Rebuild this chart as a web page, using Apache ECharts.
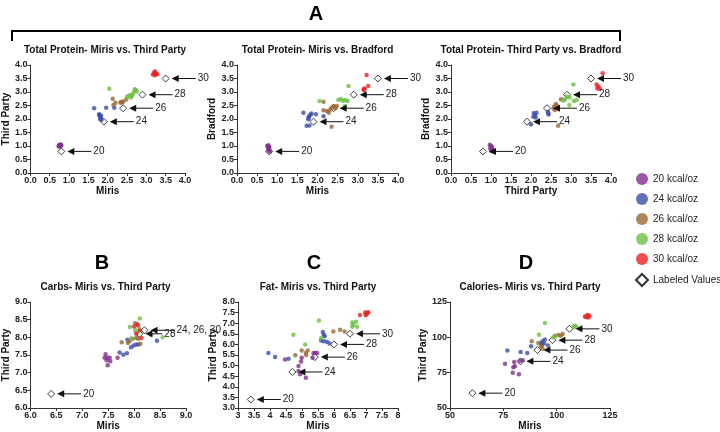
<!DOCTYPE html>
<html>
<head>
<meta charset="utf-8">
<script src="https://cdn.jsdelivr.net/npm/echarts@6/dist/echarts.min.js"></script>
<style>
  html, body { margin: 0; padding: 0; background: #fff; }
  #chart { width: 720px; height: 432px; }
</style>
</head>
<body>
<div id="chart"></div>
<script>
// ---- data ----
const groups = ['20 kcal/oz', '24 kcal/oz', '26 kcal/oz', '28 kcal/oz', '30 kcal/oz'];
const colors = ['#7f2f8e', '#3b4fa8', '#9a6633', '#6bbf45', '#ec1f26'];

// Total Protein - Miris vs Third Party
const p1_20 = [[0.73,1.0],[0.75,1.04],[0.77,1.06],[0.8,1.03],[0.78,0.98],[0.76,1.01],[0.79,1.05],[0.74,0.98]];
const p1_24 = [[1.65,2.4],[1.96,2.42],[2.17,2.42],[1.78,2.15],[1.8,2.1],[1.82,2.05],[1.8,2.0],[1.84,1.97],[1.78,2.18],[1.83,2.12]];
const p1_26 = [[2.13,2.75],[2.15,2.52],[2.2,2.6],[2.33,2.62],[2.37,2.63],[2.4,2.65],[2.48,2.72],[2.35,2.6]];
const p1_28 = [[2.04,3.12],[2.5,2.82],[2.56,2.88],[2.6,2.8],[2.64,2.92],[2.68,3.0],[2.73,3.07],[2.75,3.02],[2.62,2.85],[2.7,3.1]];
const p1_30 = [[3.17,3.65],[3.2,3.72],[3.23,3.76],[3.25,3.68],[3.28,3.66],[3.22,3.62]];
const p1_lab = [[0.8,0.8],[1.9,1.9],[2.4,2.4],[2.9,2.9],[3.5,3.5]];
const p1_labText = ['20','24','26','28','30'];

// Total Protein - Miris vs Bradford
const p2_20 = [[0.75,1.0],[0.78,1.03],[0.8,0.97],[0.77,0.9],[0.8,0.85],[0.82,0.8],[0.78,0.82],[0.8,0.93]];
const p2_24 = [[1.65,2.23],[1.73,1.75],[1.8,1.76],[1.77,1.99],[1.79,2.1],[1.83,2.17],[1.85,2.2],[1.96,2.18],[2.15,2.1],[1.78,2.05]];
const p2_26 = [[2.15,2.64],[2.15,2.32],[2.23,2.3],[2.28,2.23],[2.3,2.32],[2.35,2.42],[2.4,2.48],[2.44,2.4],[2.48,2.48],[2.35,1.71]];
const p2_28 = [[2.05,2.67],[2.77,3.22],[2.52,2.7],[2.58,2.74],[2.63,2.68],[2.69,2.7],[2.75,2.67],[2.68,2.48]];
const p2_30 = [[3.22,3.63],[3.15,3.07],[3.17,3.13],[3.26,3.22],[3.15,3.1]];
const p2_lab = [[0.8,0.8],[1.9,1.9],[2.4,2.4],[2.9,2.9],[3.5,3.5]];
const p2_labText = ['20','24','26','28','30'];

// Total Protein - Third Party vs Bradford
const p3_20 = [[0.97,1.05],[1.0,1.0],[1.02,0.97],[0.98,0.92],[1.03,0.88],[1.05,0.85],[1.0,0.82],[1.05,0.8]];
const p3_24 = [[2.0,1.81],[2.06,2.08],[2.1,2.14],[2.14,2.23],[2.12,2.06],[2.07,2.21],[2.42,2.27],[2.44,2.17],[2.43,2.22]];
const p3_26 = [[2.68,1.75],[2.62,2.56],[2.56,2.39],[2.6,2.33],[2.75,2.73],[2.58,2.46],[2.65,2.5]];
const p3_28 = [[3.06,3.28],[2.85,2.73],[2.9,2.83],[2.97,2.8],[3.07,2.67],[3.14,2.7],[2.96,2.52],[2.81,2.68]];
const p3_30 = [[3.79,3.69],[3.64,3.28],[3.68,3.2],[3.72,3.13],[3.66,3.13]];
const p3_lab = [[0.8,0.8],[1.9,1.9],[2.4,2.4],[2.9,2.9],[3.5,3.5]];
const p3_labText = ['20','24','26','28','30'];

// Carbs - Miris vs Third Party
const b_20 = [[7.45,7.52],[7.43,7.42],[7.48,7.42],[7.53,7.42],[7.47,7.35],[7.54,7.32],[7.49,7.21],[7.68,7.42]];
const b_24 = [[7.72,7.57],[7.79,7.51],[7.86,7.55],[7.94,7.72],[7.99,7.77],[8.04,7.8],[8.08,7.8],[7.87,7.93],[8.44,7.9]];
const b_26 = [[7.76,7.86],[7.88,7.84],[7.91,7.89],[7.97,7.96],[8.04,7.98],[8.02,8.4],[8.06,8.38],[8.12,7.82],[8.08,7.96]];
const b_28 = [[8.11,8.53],[7.92,8.29],[8.02,8.2],[8.05,8.13],[8.33,8.07],[8.55,8.0],[7.94,7.97],[8.1,8.25]];
const b_30 = [[8.0,8.31],[8.07,8.34],[8.04,8.1],[8.14,7.98],[8.11,8.19]];
const b_lab = [[6.4,6.4],[8.2,8.2],[8.1,8.1]];
const b_labText = ['20','24, 26, 30','28'];

// Fat - Miris vs Third Party
const c_20 = [[4.47,5.29],[4.89,4.98],[4.99,5.37],[4.97,5.19],[4.89,4.74],[4.94,4.59],[5.12,4.43],[5.36,5.6],[5.41,5.6],[5.47,5.6],[5.33,5.37]];
const c_24 = [[3.95,5.6],[4.16,5.4],[4.58,5.32],[5.65,6.58],[5.68,6.46],[5.71,6.38],[5.6,6.18],[5.68,6.15],[5.78,6.12],[5.86,6.04]];
const c_26 = [[4.79,5.49],[4.99,5.71],[5.12,5.6],[5.18,5.71],[5.13,5.5],[5.98,6.61],[6.19,6.69],[6.33,6.61]];
const c_28 = [[4.73,6.46],[5.53,7.13],[5.6,6.3],[5.1,5.99],[6.57,7.03],[6.6,6.93],[6.69,7.07],[6.72,6.83],[6.57,6.83]];
const c_30 = [[6.81,7.39],[6.97,7.5],[7.02,7.43],[7.07,7.52],[6.99,7.37],[7.04,7.48]];
const c_lab = [[3.4,3.4],[4.7,4.7],[5.4,5.4],[6.0,6.0],[6.5,6.5]];
const c_labText = ['20','24','26','28','30'];

// Calories - Miris vs Third Party
const d_20 = [[75.8,81.3],[80.1,82.5],[79.7,78.9],[80.4,79.6],[79.4,75.0],[82.3,73.8],[82.8,83.2],[84.1,83.7]];
const d_24 = [[76.9,90.7],[83.1,89.7],[86.2,88.9],[88.0,93.7],[92.7,96.0],[93.4,97.2],[94.5,98.4],[94.1,95.6],[95.9,94.2],[93.0,94.5]];
const d_26 = [[88.3,97.2],[91.4,96.0],[92.7,93.7],[93.4,92.0],[99.2,101.2],[100.8,101.6],[101.9,101.2],[102.8,102.4]];
const d_28 = [[94.5,110.1],[91.7,101.9],[98.4,100],[99.2,100.8],[108.3,108.4],[109.1,107.7],[108.0,107.2]];
const d_30 = [[113.3,114.7],[114.4,115.8],[115.3,115.3],[114.9,114.0],[113.8,114.3]];
const d_lab = [[60.5,60.5],[83,83],[91,91],[98,98],[106,106]];
const d_labText = ['20','24','26','28','30'];

// ---- layout ----
const FONT = 'Liberation Sans, Arial, sans-serif';
const panels = [
  { title: 'Total Protein- Miris vs. Third Party', grid: [25, 65, 160, 108], x: [0, 4, 0.5], y: [0, 4, 0.5], xName: 'Miris', yName: 'Third Party', xFmt: 1, yFmt: 1,
    sets: [p1_20, p1_24, p1_26, p1_28, p1_30], lab: p1_lab, labText: p1_labText },
  { title: 'Total Protein- Miris vs. Bradford', grid: [237, 65, 161, 108], x: [0, 4, 0.5], y: [0, 4, 0.5], xName: 'Miris', yName: 'Bradford', xFmt: 1, yFmt: 1,
    sets: [p2_20, p2_24, p2_26, p2_28, p2_30], lab: p2_lab, labText: p2_labText },
  { title: 'Total Protein- Third Party vs. Bradford', grid: [451, 65, 160, 108], x: [0, 4, 0.5], y: [0, 4, 0.5], xName: 'Third Party', yName: 'Bradford', xFmt: 1, yFmt: 1,
    sets: [p3_20, p3_24, p3_26, p3_28, p3_30], lab: p3_lab, labText: p3_labText },
  { title: 'Carbs- Miris vs. Third Party', grid: [25, 302, 161, 107], x: [6, 9, 0.5], y: [6, 9, 0.5], xName: 'Miris', yName: 'Third Party', xFmt: 1, yFmt: 1,
    sets: [b_20, b_24, b_26, b_28, b_30], lab: b_lab, labText: b_labText },
  { title: 'Fat- Miris vs. Third Party', grid: [238, 302, 160, 107], x: [3, 8, 0.5], y: [3, 8, 0.5], xName: 'Miris', yName: 'Third Party', xFmt: -1, yFmt: 1,
    sets: [c_20, c_24, c_26, c_28, c_30], lab: c_lab, labText: c_labText },
  { title: 'Calories- Miris vs. Third Party', grid: [450, 302, 160, 107], x: [50, 125, 25], y: [50, 125, 25], xName: 'Miris', yName: 'Third Party', xFmt: 0, yFmt: 0,
    sets: [d_20, d_24, d_26, d_28, d_30], lab: d_lab, labText: d_labText }
];

function fmt(d) {
  return function (v) { return d < 0 ? String(+v.toFixed(2)) : v.toFixed(d); };
}

function axis(i, r, name, d, isY) {
  return {
    type: 'value', gridIndex: i, min: r[0], max: r[1], interval: r[2],
    name: name, nameLocation: 'middle', nameGap: isY ? (r[1] >= 100 ? 22 : 18) : 13,
    nameTextStyle: { fontFamily: FONT, fontWeight: 'bold', fontSize: 10, color: '#111' },
    axisLine: { show: true, onZero: false, lineStyle: { color: '#333', width: 1 } },
    axisTick: { show: true, length: 3, lineStyle: { color: '#333' } },
    axisLabel: { fontFamily: FONT, fontWeight: 'bold', fontSize: 9, color: '#222', margin: 3, formatter: fmt(d) },
    splitLine: { show: false }
  };
}

// arrow + number label pointing at a labeled value (pixel offsets from the diamond)
function arrowRenderer(texts, lens) {
  return function (params, api) {
    const j = api.value(2);
    const pt = api.coord([api.value(0), api.value(1)]);
    const head = pt[0] + 6, tail = pt[0] + lens[j];
    return {
      type: 'group',
      children: [
        { type: 'line', shape: { x1: head + 5, y1: pt[1], x2: tail, y2: pt[1] }, style: { stroke: '#111', lineWidth: 1 } },
        { type: 'polygon', shape: { points: [[head, pt[1]], [head + 7, pt[1] - 3.5], [head + 7, pt[1] + 3.5]] }, style: { fill: '#111' } },
        { type: 'text', style: { text: texts[j], x: tail + 2, y: pt[1], textVerticalAlign: 'middle', font: '10px ' + FONT, fill: '#222' } }
      ]
    };
  };
}

const grid = [], xAxis = [], yAxis = [], series = [], graphic = [];
panels.forEach(function (p, i) {
  const g = p.grid;
  grid.push({ left: g[0], top: g[1], width: g[2], height: g[3] });
  xAxis.push(axis(i, p.x, p.xName, p.xFmt, false));
  yAxis.push(axis(i, p.y, p.yName, p.yFmt, true));
  graphic.push({ type: 'text', style: { text: p.title, x: g[0] + g[2] / 2, y: g[1] - 15,
    textAlign: 'center', textVerticalAlign: 'middle', font: 'bold 10px ' + FONT, fill: '#111' } });

  const lens = p.lab.map(function (pt, j) { return (i === 3 && j === 2) ? 23 : 30; });
  series.push({
    name: 'Labeled Values', type: 'scatter', xAxisIndex: i, yAxisIndex: i,
    symbol: 'diamond', symbolSize: 7, z: 2,
    itemStyle: { color: '#fff', borderColor: '#111', borderWidth: 1 },
    data: p.lab
  });
  series.push({
    type: 'custom', xAxisIndex: i, yAxisIndex: i, z: 4, clip: false, silent: true,
    renderItem: arrowRenderer(p.labText, lens),
    data: p.lab.map(function (pt, j) { return [pt[0], pt[1], j]; })
  });
  p.sets.forEach(function (s, k) {
    series.push({
      name: groups[k], type: 'scatter', xAxisIndex: i, yAxisIndex: i,
      symbol: 'circle', symbolSize: 4.5, z: 3,
      itemStyle: { color: colors[k] }, data: s
    });
  });
});

// panel letters and bracket
graphic.push({ type: 'text', style: { text: 'A', x: 316, y: 14, textAlign: 'center', textVerticalAlign: 'middle', font: 'bold 20px ' + FONT, fill: '#000' } });
graphic.push({ type: 'polyline', shape: { points: [[12, 41], [12, 31], [620, 31], [620, 41]] }, style: { stroke: '#000', lineWidth: 2, fill: null } });
[['B', 102], ['C', 314], ['D', 526]].forEach(function (l) {
  graphic.push({ type: 'text', style: { text: l[0], x: l[1], y: 263, textAlign: 'center', textVerticalAlign: 'middle', font: 'bold 20px ' + FONT, fill: '#000' } });
});

const chart = echarts.init(document.getElementById('chart'));
chart.setOption({
  animation: false,
  backgroundColor: '#fff',
  grid: grid,
  xAxis: xAxis,
  yAxis: yAxis,
  legend: {
    orient: 'vertical', left: 630, top: 168, itemWidth: 12, itemHeight: 12, itemGap: 8,
    textStyle: { fontFamily: FONT, fontSize: 10, color: '#222' },
    data: groups.map(function (n) { return { name: n, icon: 'circle' }; })
      .concat([{ name: 'Labeled Values', icon: 'diamond', itemStyle: { color: '#fff', borderColor: '#000', borderWidth: 2 } }])
  },
  graphic: graphic,
  series: series
});
</script>
</body>
</html>
